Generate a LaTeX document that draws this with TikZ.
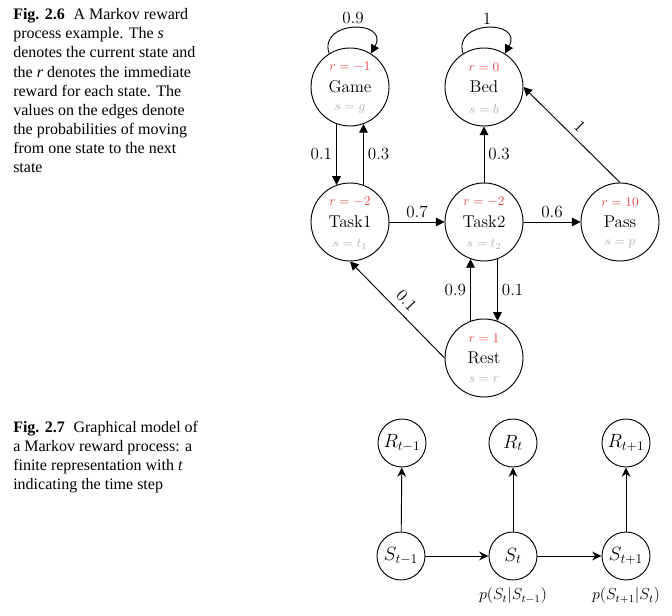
\documentclass[tikz,border=0pt]{standalone}
\usepackage{fontspec}
\newfontfamily\capfont{Liberation Serif}
\usetikzlibrary{arrows.meta,calc}
\definecolor{rcol}{RGB}{232,72,72}
\definecolor{scol}{RGB}{175,175,175}
\newcommand{\mysub}[1]{\hbox{\fontsize{10}{12}\selectfont$#1$}}
\begin{document}
\begin{tikzpicture}[x=0.75pt,y=-0.75pt,
  st/.style={circle,draw,line width=0.7pt,minimum size=58.5pt,inner sep=0pt,font=\fontsize{12.8}{15}\selectfont},
  rlab/.style={text=rcol,inner sep=0pt,font=\fontsize{10}{12}\selectfont},
  slab/.style={text=scol,inner sep=0pt,font=\fontsize{10}{12}\selectfont},
  tr/.style={line width=0.7pt,-{Triangle[length=6.5pt,width=6.5pt]}},
  elab/.style={font=\fontsize{12.8}{15}\selectfont,inner sep=3pt},
  bn/.style={circle,draw,line width=0.7pt,minimum size=36pt,inner sep=0pt,font=\fontsize{13.5}{16}\selectfont},
  bt/.style={line width=0.7pt,-{Stealth[length=7pt,width=6.5pt]}},
  plab/.style={font=\fontsize{12}{14}\selectfont,inner sep=0pt},
  captext/.style={anchor=north west,align=left,inner sep=0pt,font=\capfont\fontsize{12}{14.3}\selectfont}
]
\useasboundingbox (0,0) rectangle (672,616);

\newcommand{\mystate}[6]{%
  \node[st] (#1) at (#2,#3) {#4};
  \node[rlab] (#1r) at ($(#1)+(0,-20)$) {$r=#5$};
  \node[slab] (#1s) at ($(#1)+(0,22)$) {$s=#6$};
}

% captions
\node[captext] (cap1) at (13,8.5) {\textbf{Fig. 2.6}\hspace{0.55em}A Markov reward\\
process example. The \textit{s}\\
denotes the current state and\\
the \textit{r} denotes the immediate\\
reward for each state. The\\
values on the edges denote\\
the probabilities of moving\\
from one state to the next\\
state};
\node[captext] (cap2) at (13,420.5) {\textbf{Fig. 2.7}\hspace{0.55em}Graphical model of\\
a Markov reward process: a\\
finite representation with \textit{t}\\
indicating the time step};

% Markov reward process
\mystate{g}{350}{87}{Game}{-1}{g}
\mystate{b}{484}{87}{Bed}{0}{b}
\mystate{t1}{350}{222}{Task1}{-2}{t_1}
\mystate{t2}{484}{222}{Task2}{-2}{t_2}
\mystate{p}{620}{222}{Pass}{10}{p}
\mystate{re}{484}{358}{Rest}{1}{r}

\draw[tr] (g.122) .. controls +(-11,-34) and +(19,-34) .. node[elab,pos=0.5,above=-0.5pt] (lg) {0.9} (g.58);
\draw[tr] (b.122) .. controls +(-11,-34) and +(19,-34) .. node[elab,pos=0.5,above=-0.5pt] (lb) {1} (b.58);
\draw[tr] (g.-110) -- node[elab,left] (lgt) {0.1} (t1.110);
\draw[tr] (t1.70) -- node[elab,right] (ltg) {0.3} (g.-70);
\draw[tr] (t2.north) -- node[elab,right] (ltb) {0.3} (b.south);
\draw[tr] (p.north) -- node[elab,sloped,above=1pt] (lpb) {1} (b.east);
\draw[tr] (t1.east) -- node[elab,above] (ltt) {0.7} (t2.west);
\draw[tr] (t2.east) -- node[elab,above] (ltp) {0.6} (p.west);
\draw[tr] (re.110) -- node[elab,left] (lrt) {0.9} (t2.-110);
\draw[tr] (t2.-70) -- node[elab,right] (ltr) {0.1} (re.70);
\draw[tr] (re.west) -- node[elab,sloped,above=2pt] (lrt1) {0.1} (t1.south);

% graphical model
\node[bn] (R1) at (402,443) {$R_{\mysub{t{-}1}}$};
\node[bn] (R2) at (513,443) {$R_{\mysub{t}}$};
\node[bn] (R3) at (626,443) {$R_{\mysub{t{+}1}}$};
\node[bn] (S1) at (401,556) {$S_{\mysub{t{-}1}}$};
\node[bn] (S2) at (513,556) {$S_{\mysub{t}}$};
\node[bn] (S3) at (626,556) {$S_{\mysub{t{+}1}}$};
\draw[bt] (S1) -- (R1);
\draw[bt] (S2) -- (R2);
\draw[bt] (S3) -- (R3);
\draw[bt] (S1) -- (S2);
\draw[bt] (S2) -- (S3);
\node[plab] (p2) at (513,596) {$p(S_t|S_{t-1})$};
\node[plab] (p3) at (626,596) {$p(S_{t+1}|S_t)$};
\end{tikzpicture}
\end{document}
